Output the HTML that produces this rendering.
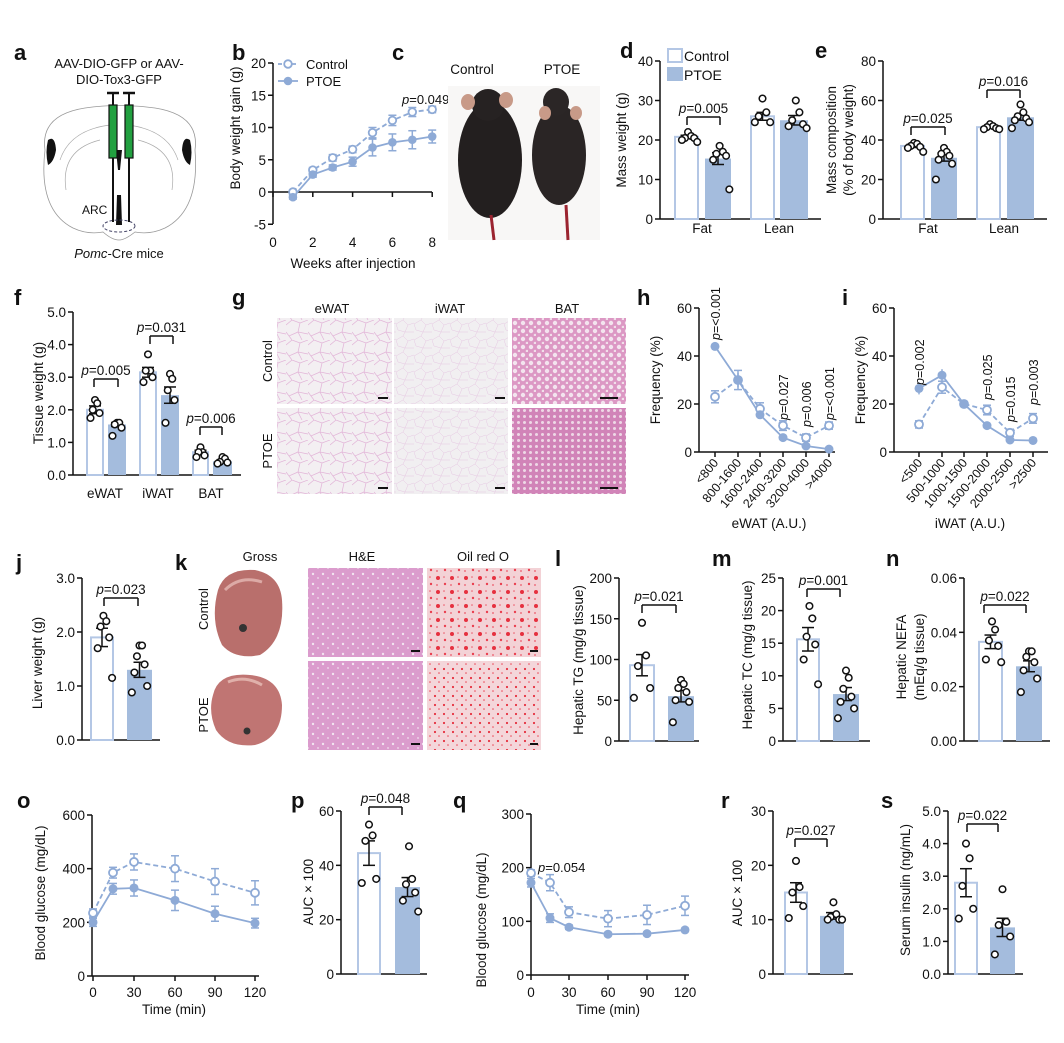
<!DOCTYPE html>
<html><head><meta charset="utf-8">
<style>
html,body{margin:0;padding:0;background:#fff;}
svg{display:block;font-family:"Liberation Sans",Arial,sans-serif;}
</style></head>
<body>
<svg id="s" width="1064" height="1043" viewBox="0 0 1064 1043" xmlns="http://www.w3.org/2000/svg">
<defs>
<pattern id="wat1" width="22" height="20" patternUnits="userSpaceOnUse">
<rect width="22" height="20" fill="#f3eff2"/>
<path d="M0 5 L6 0 M6 0 L14 3 L22 0 M14 3 L12 12 L22 14 M12 12 L3 16 L0 12 M3 16 L6 20 M12 12 L16 20" stroke="#e2b4d8" stroke-width="0.7" fill="none"/>
</pattern>
<pattern id="wat2" width="18" height="16" patternUnits="userSpaceOnUse">
<rect width="18" height="16" fill="#f1eff1"/>
<path d="M0 4 L7 0 M7 0 L12 5 L18 3 M12 5 L9 12 L18 12 M9 12 L2 10 L0 4 M9 12 L7 16" stroke="#e6c8e2" stroke-width="0.5" fill="none"/>
</pattern>
<pattern id="bat" width="8" height="8" patternUnits="userSpaceOnUse">
<rect width="8" height="8" fill="#dc98c4"/>
<circle cx="3" cy="3" r="2.2" fill="#f3e4ee"/><circle cx="7" cy="7" r="1.3" fill="#f1dfea"/>
</pattern>
<pattern id="bat2" width="6" height="6" patternUnits="userSpaceOnUse">
<rect width="6" height="6" fill="#d184b8"/>
<circle cx="2.5" cy="2.5" r="1.5" fill="#eed8e6"/>
</pattern>
<pattern id="he" width="10" height="10" patternUnits="userSpaceOnUse">
<rect width="10" height="10" fill="#db9ccd"/>
<circle cx="3" cy="4" r="1.2" fill="#f2e4f0"/><circle cx="8" cy="8" r="0.9" fill="#f0e0ee"/>
</pattern>
<pattern id="oil" width="14" height="14" patternUnits="userSpaceOnUse">
<rect width="14" height="14" fill="#f3d2d6"/>
<circle cx="4" cy="4" r="2" fill="#e6303f"/><circle cx="11" cy="10" r="1.2" fill="#ea4050"/><circle cx="10" cy="3" r="0.8" fill="#ec5868"/><circle cx="3" cy="11" r="0.9" fill="#ec5868"/>
</pattern>
<pattern id="oil2" width="9" height="9" patternUnits="userSpaceOnUse">
<rect width="9" height="9" fill="#f4d6da"/>
<circle cx="3" cy="3" r="1.1" fill="#e6303f"/><circle cx="7" cy="7" r="0.8" fill="#ea4858"/>
</pattern>
</defs>
<g id="g"></g>
</svg>
<script>
var G=document.getElementById('g');var out='';
var LC='#8eaad6',BF='#a4bcdd',BS='#b4c7e5';
function T(x,y,s,o){o=o||{};var a=o.a||'start',f=o.f||13,w=o.w||'normal',r=o.r;
var tr=r?' transform="rotate('+r+' '+x+' '+y+')"':'';
out+='<text x="'+x+'" y="'+y+'" font-size="'+f+'" font-weight="'+w+'" text-anchor="'+a+'"'+tr+' fill="'+(o.c||'#111')+'">'+s+'</text>';}
function L(x1,y1,x2,y2,c,w,d){out+='<line x1="'+x1+'" y1="'+y1+'" x2="'+x2+'" y2="'+y2+'" stroke="'+(c||'#111')+'" stroke-width="'+(w||1.5)+'"'+(d?' stroke-dasharray="'+d+'"':'')+'/>';}
function R(x,y,w,h,f,s,sw){out+='<rect x="'+x+'" y="'+y+'" width="'+w+'" height="'+h+'" fill="'+f+'"'+(s?' stroke="'+s+'" stroke-width="'+(sw||1.5)+'"':'')+'/>';}
function C(x,y,r,f,s,sw){out+='<circle cx="'+x+'" cy="'+y+'" r="'+r+'" fill="'+f+'"'+(s?' stroke="'+s+'" stroke-width="'+(sw||1.5)+'"':'')+'/>';}
function P(v){return '<tspan font-style="italic">p</tspan>='+v;}
function yaxis(ax,y0,yT,vmax,ticks,end,ylab){
  L(ax,yT,ax,y0);L(ax,y0,end,y0);
  ticks.forEach(function(t){var y=y0-(t[0]/vmax)*(y0-yT);L(ax-5,y,ax,y);T(ax-7,y+5,t[1],{a:'end',f:13.5});});
  return function(v){return y0-(v/vmax)*(y0-yT);};
}
function bar(Y,x0,x1,v,e,dots,ctrl){
  var y=Y(v),y0=Y(0);
  if(ctrl) R(x0+1,y,x1-x0-2,y0-y,'#fff',BS,2); else R(x0,y,x1-x0,y0-y,BF);
  var cx=(x0+x1)/2;
  L(cx,Y(v-e),cx,Y(v+e),'#111',1.5);L(cx-6,Y(v+e),cx+6,Y(v+e),'#111',1.5);L(cx-6,Y(v-e),cx+6,Y(v-e),'#111',1.5);
  var n=dots.length,sp=Math.min(7,(x1-x0-8)/Math.max(1,n-1));
  dots.forEach(function(d,i){var dx=(i%2?1:-1)*Math.ceil(i/2)*sp*0.9;if(n%2==0)dx+=sp*0.45;C(cx+dx,Y(d),3.3,'#fff','#111',1.5);});
}
function brk(x1,x2,y,p){L(x1,y+8,x1,y);L(x1,y,x2,y);L(x2,y,x2,y+8);T((x1+x2)/2,y-4,P(p),{a:'middle',f:13.5});}
function letter(x,y,s){T(x,y,s,{f:22,w:'bold'});}

// ---- a ----
letter(14,60,'a');
T(119,68,'AAV-DIO-GFP or AAV-',{a:'middle',f:13});
T(119,84,'DIO-Tox3-GFP',{a:'middle',f:13});
out+='<path d="M45 150 Q40 115 85 108 Q119 103 155 108 Q200 115 195 150 Q200 210 165 228 Q150 235 135 232 Q125 240 119 240 Q112 240 103 232 Q88 235 73 228 Q38 210 45 150Z" fill="none" stroke="#999" stroke-width="0.8"/>';
out+='<path d="M60 160 Q70 130 110 125 M178 160 Q168 130 128 125 M66 190 Q60 150 100 140 M172 190 Q178 150 138 140" fill="none" stroke="#aaa" stroke-width="0.7"/>';
out+='<path d="M48 140 Q55 135 56 150 Q54 162 48 165 Q45 152 48 140Z" fill="#111"/><path d="M190 140 Q183 135 182 150 Q184 162 190 165 Q193 152 190 140Z" fill="#111"/>';
out+='<path d="M116 150 L122 150 L120 170 L118 170Z M117 195 L121 195 L122 225 L116 225Z" fill="#111"/>';
out+='<ellipse cx="119" cy="226" rx="16" ry="6" fill="none" stroke="#446" stroke-dasharray="3 2" stroke-width="1"/>';
[[109,117],[125,133]].forEach(function(s){var cx=(s[0]+s[1])/2;L(cx-6,93,cx+6,93,'#111',2.5);L(cx,93,cx,105,'#111',2);R(s[0],105,8,53,'#22a040','#111',1.2);L(cx,158,cx,222,'#111',2);});
T(82,214,'ARC',{f:12});
T(119,258,'<tspan font-style="italic">Pomc</tspan>-Cre mice',{a:'middle',f:13});

// ---- b ----
letter(232,60,'b');
(function(){var ax=273,y0=192,yT=63;L(ax,63,ax,224);
[[20,'20'],[15,'15'],[10,'10'],[5,'5'],[0,'0'],[-5,'-5']].forEach(function(t){var y=192-t[0]*6.45;L(ax-5,y,ax,y);T(ax-7,y+5,t[1],{a:'end',f:13.5});});
L(ax,y0,432,y0);[0,2,4,6,8].forEach(function(w){var x=ax+w*19.9;L(x,y0,x,y0+5);T(x,247,''+w,{a:'middle',f:13.5});});
T(353,268,'Weeks after injection',{a:'middle',f:13.5});
T(240,128,'Body weight gain (g)',{a:'middle',f:13.5,r:-90});
var c=[0,3.4,5.3,6.6,9.2,11.1,12.4,12.8],ce=[.3,.4,.5,.5,.8,.8,.7,.5],p=[-.8,2.7,3.8,4.7,6.9,7.7,8.1,8.6],pe=[.3,.4,.4,.7,1.3,1.3,1.4,1];
function X(i){return ax+(i+1)*19.9;}function Y(v){return 192-v*6.45;}
var s='';c.forEach(function(v,i){s+=(i?'L':'M')+X(i)+' '+Y(v);});out+='<path d="'+s+'" fill="none" stroke="'+LC+'" stroke-width="1.8" stroke-dasharray="5 3"/>';
s='';p.forEach(function(v,i){s+=(i?'L':'M')+X(i)+' '+Y(v);});out+='<path d="'+s+'" fill="none" stroke="'+LC+'" stroke-width="1.8"/>';
c.forEach(function(v,i){L(X(i),Y(v-ce[i]),X(i),Y(v+ce[i]),LC,1.5);L(X(i)-4,Y(v+ce[i]),X(i)+4,Y(v+ce[i]),LC,1.5);L(X(i)-4,Y(v-ce[i]),X(i)+4,Y(v-ce[i]),LC,1.5);C(X(i),Y(v),3.8,'#fff',LC,1.8);});
p.forEach(function(v,i){L(X(i),Y(v-pe[i]),X(i),Y(v+pe[i]),LC,1.5);L(X(i)-4,Y(v+pe[i]),X(i)+4,Y(v+pe[i]),LC,1.5);L(X(i)-4,Y(v-pe[i]),X(i)+4,Y(v-pe[i]),LC,1.5);C(X(i),Y(v),4.3,LC);});
L(278,64,298,64,LC,1.8,'4 3');C(288,64,3.8,'#fff',LC,1.8);T(306,69,'Control');
L(278,81,298,81,LC,1.8);C(288,81,4.3,LC);T(306,86,'PTOE');
T(402,104,P('0.049'),{f:13});
})();

// ---- c ----
letter(392,60,'c');
T(472,74,'Control',{a:'middle',f:13.5});T(562,74,'PTOE',{a:'middle',f:13.5});
R(448,86,152,154,'#f8f7f6');
out+='<ellipse cx="490" cy="160" rx="32" ry="58" fill="#231f1f"/><ellipse cx="488" cy="105" rx="16" ry="16" fill="#262222"/>';
out+='<ellipse cx="468" cy="102" rx="7" ry="8" fill="#c89a88"/><ellipse cx="506" cy="100" rx="7" ry="8" fill="#c89a88"/>';
L(491,215,494,240,'#9b2430',3);
out+='<ellipse cx="559" cy="155" rx="27" ry="50" fill="#2a2525"/><ellipse cx="556" cy="102" rx="13" ry="14" fill="#2b2626"/>';
out+='<ellipse cx="545" cy="113" rx="6" ry="7" fill="#c89a88"/><ellipse cx="576" cy="113" rx="6" ry="7" fill="#c89a88"/>';
L(566,205,568,240,'#9b2430',3);

// ---- d ----
letter(620,58,'d');
(function(){var Y=yaxis(660,219,61,40,[[0,'0'],[10,'10'],[20,'20'],[30,'30'],[40,'40']],821);
T(626,140,'Mass weight (g)',{a:'middle',f:13.5,r:-90});
bar(Y,674,699,20.8,.4,[22,21,20.5,20.5,20,19.5],1);bar(Y,705,731,15.3,1.5,[18.5,17,16.5,16,15,7.5],0);
bar(Y,750,775,26,1,[30.5,27,26,24.5,24.5],1);bar(Y,780,808,25,1.2,[30,27,25,24,23.5,23],0);
T(702,233,'Fat',{a:'middle',f:13.5});T(779,233,'Lean',{a:'middle',f:13.5});
brk(687,720,117,'0.005');
R(668,49,14,13,'#fff',BS,2);R(667,67,16,14,BF);T(684,61,'Control',{f:14});T(684,80,'PTOE',{f:14});
})();

// ---- e ----
letter(815,58,'e');
(function(){var Y=yaxis(883,219,61,80,[[0,'0'],[20,'20'],[40,'40'],[60,'60'],[80,'80']],1047);
T(836,140,'Mass composition',{a:'middle',f:13.5,r:-90});T(853,140,'(% of body weight)',{a:'middle',f:13.5,r:-90});
bar(Y,900,925,37,.8,[38.5,38,37,36.5,36,34],1);bar(Y,931,957,31,1.7,[36,34,33,32,30,28,20],0);
bar(Y,976,1001,46.5,.5,[48,47,46.5,46,45.5,45.5],1);bar(Y,1007,1034,51.5,1.5,[58,54,52,51,50,49,46],0);
T(928,233,'Fat',{a:'middle',f:13.5});T(1004,233,'Lean',{a:'middle',f:13.5});
brk(911,945,127,'0.025');brk(987,1020,90,'0.016');
})();

// ---- f ----
letter(14,305,'f');
(function(){var Y=yaxis(73,475,312,5,[[0,'0.0'],[1,'1.0'],[2,'2.0'],[3,'3.0'],[4,'4.0'],[5,'5.0']],241);
T(43,393,'Tissue weight (g)',{a:'middle',f:13.5,r:-90});
bar(Y,86,104,2.0,.12,[2.3,2.2,2.0,1.9,1.75],1);bar(Y,108,126,1.55,.06,[1.6,1.6,1.55,1.45,1.2],0);
bar(Y,139,157,3.15,.15,[3.7,3.2,3.2,3.0,2.85],1);bar(Y,161,179,2.45,.25,[3.1,2.95,2.6,2.3,1.6],0);
bar(Y,192,209,.7,.06,[.85,.7,.7,.6,.55],1);bar(Y,213,232,.42,.05,[.55,.5,.4,.38,.35],0);
T(105,498,'eWAT',{a:'middle',f:13.5});T(158,498,'iWAT',{a:'middle',f:13.5});T(211,498,'BAT',{a:'middle',f:13.5});
brk(94,118,379,'0.005');brk(150,173,336,'0.031');brk(200,222,427,'0.006');
})();

// ---- g ----
letter(232,305,'g');
T(332,313,'eWAT',{a:'middle',f:13});T(450,313,'iWAT',{a:'middle',f:13});T(567,313,'BAT',{a:'middle',f:13});
T(272,361,'Control',{a:'middle',f:13,r:-90});T(272,451,'PTOE',{a:'middle',f:13,r:-90});
R(277,318,115,86,'url(#wat1)');R(394,318,114,86,'url(#wat2)');R(512,318,114,86,'url(#bat)');
R(277,408,115,86,'url(#wat1)');R(394,408,114,86,'url(#wat2)');R(512,408,114,86,'url(#bat2)');
[[378,388,5],[495,505,5],[600,618,5]].forEach(function(b){L(b[0],398,b[1],398,'#111',2);L(b[0],488,b[1],488,'#111',2);});

// ---- h, i ----
function freq(ax,end,xs,c,ce,p,pe,cats,xl,xlc,ylx,ps){
  var Y=yaxis(ax,452,308,60,[[0,'0'],[20,'20'],[40,'40'],[60,'60']],end);
  xs.forEach(function(x,i){L(x,452,x,457);T(x+4,463,cats[i],{a:'end',f:12.5,r:-50});});
  T(xlc,528,xl,{a:'middle',f:13.5});T(ylx,380,'Frequency (%)',{a:'middle',f:13.5,r:-90});
  var s='';c.forEach(function(v,i){s+=(i?'L':'M')+xs[i]+' '+Y(v);});out+='<path d="'+s+'" fill="none" stroke="'+LC+'" stroke-width="1.8" stroke-dasharray="5 3"/>';
  s='';p.forEach(function(v,i){s+=(i?'L':'M')+xs[i]+' '+Y(v);});out+='<path d="'+s+'" fill="none" stroke="'+LC+'" stroke-width="1.8"/>';
  c.forEach(function(v,i){var x=xs[i];L(x,Y(v-ce[i]),x,Y(v+ce[i]),LC,1.5);L(x-4,Y(v+ce[i]),x+4,Y(v+ce[i]),LC,1.5);L(x-4,Y(v-ce[i]),x+4,Y(v-ce[i]),LC,1.5);C(x,Y(v),4,'#fff',LC,1.8);});
  p.forEach(function(v,i){var x=xs[i];L(x,Y(v-pe[i]),x,Y(v+pe[i]),LC,1.5);C(x,Y(v),4.5,LC);});
  ps.forEach(function(q){T(xs[q[0]]+5,q[1],P(q[2]),{a:'start',f:12.5,r:-90});});
}
letter(637,305,'h');letter(842,305,'i');
freq(699,835,[715,738,760,783,806,829],[23,30,18,11,6,11],[2.5,4,2.5,2,1.5,1.5],[44,30,15.5,6,2.5,1.2],[1,3,1.5,.8,.8,.5],
 ['&lt;800','800-1600','1600-2400','2400-3200','3200-4000','&gt;4000'],'eWAT (A.U.)',769,660,[[0,340,'&lt;0.001'],[3,420,'0.027'],[4,427,'0.006'],[5,420,'&lt;0.001']]);
freq(894,1048,[919,942,964,987,1010,1033],[11.5,27,20,17.5,8,14],[1.5,2.5,1,2,1.5,2],[26.5,32,20,11,5,4.8],[2.5,2.5,1,1,.8,.5],
 ['&lt;500','500-1000','1000-1500','1500-2000','2000-2500','&gt;2500'],'iWAT (A.U.)',970,865,[[0,385,'0.002'],[3,400,'0.025'],[4,422,'0.015'],[5,405,'0.003']]);

// ---- j ----
letter(16,570,'j');
(function(){var Y=yaxis(82,740,578,3,[[0,'0.0'],[1,'1.0'],[2,'2.0'],[3,'3.0']],160);
T(42,663,'Liver weight (g)',{a:'middle',f:13.5,r:-90});
bar(Y,90,114,1.9,.17,[2.3,2.2,2.1,1.9,1.7,1.15],1);bar(Y,127,152,1.3,.14,[1.75,1.75,1.55,1.4,1.25,1.0,.88],0);
brk(104,138,598,'0.023');})();

// ---- k ----
letter(175,570,'k');
T(260,561,'Gross',{a:'middle',f:13});T(362,561,'H&amp;E',{a:'middle',f:13});T(483,561,'Oil red O',{a:'middle',f:13});
T(208,609,'Control',{a:'middle',f:13,r:-90});T(208,715,'PTOE',{a:'middle',f:13,r:-90});
out+='<path d="M218 590 Q225 568 255 570 Q280 575 282 600 Q285 640 260 655 Q235 660 222 645 Q210 620 218 590Z" fill="#b96f6c"/>';
out+='<path d="M225 590 Q240 575 262 582" stroke="#dcaaa6" stroke-width="3" fill="none"/><circle cx="243" cy="628" r="4" fill="#333"/>';
out+='<path d="M213 695 Q218 672 250 675 Q280 678 282 705 Q282 738 255 745 Q228 748 216 730 Q208 712 213 695Z" fill="#c07573"/>';
out+='<path d="M228 682 Q245 675 262 685" stroke="#e0b0aa" stroke-width="3" fill="none"/><circle cx="247" cy="731" r="3.5" fill="#333"/>';
R(308,568,115,89,'url(#he)');R(308,661,115,89,'url(#he)');R(427,568,114,89,'url(#oil)');R(427,661,114,89,'url(#oil2)');
[[411,420],[530,538]].forEach(function(b){L(b[0],651,b[1],651,'#111',2);L(b[0],744,b[1],744,'#111',2);});

// ---- l m n ----
letter(555,566,'l');
(function(){var Y=yaxis(619,741,578,200,[[0,'0'],[50,'50'],[100,'100'],[150,'150'],[200,'200']],699);
T(583,660,'Hepatic TG (mg/g tissue)',{a:'middle',f:13.5,r:-90});
bar(Y,629,655,93,13,[145,105,92,65,53],1);bar(Y,668,694,55,7,[75,70,65,60,50,48,23],0);brk(642,676,605,'0.021');})();
letter(712,566,'m');
(function(){var Y=yaxis(783,741,578,25,[[0,'0'],[5,'5'],[10,'10'],[15,'15'],[20,'20'],[25,'25']],870);
T(752,655,'Hepatic TC (mg/g tissue)',{a:'middle',f:13.5,r:-90});
bar(Y,796,820,15.6,1.8,[20.7,18.8,16,14.8,12.5,8.7],1);bar(Y,833,859,7.2,1,[10.8,9.7,8,6.8,6,5,3.5],0);brk(807,840,589,'0.001');})();
letter(886,566,'n');
(function(){var Y=yaxis(964,741,578,.06,[[0,'0.00'],[.02,'0.02'],[.04,'0.04'],[.06,'0.06']],1050);
T(906,657,'Hepatic NEFA',{a:'middle',f:13.5,r:-90});T(924,657,'(mEq/g tissue)',{a:'middle',f:13.5,r:-90});
bar(Y,978,1003,.0365,.0025,[.044,.041,.037,.035,.03,.029],1);bar(Y,1016,1042,.0275,.002,[.033,.033,.031,.029,.026,.023,.018],0);brk(984,1026,605,'0.022');})();

// ---- o, q line ----
function tol(ax,y0,yT,vmax,ticks,xs,c,ce,p,pe,ylx,lab,tc){
  L(ax,yT,ax,y0);ticks.forEach(function(t){var y=y0-t[0]/vmax*(y0-yT);L(ax-5,y,ax,y);T(ax-7,y+5,t[1],{a:'end',f:13.5});});
  L(ax,y0,xs[xs.length-1]+4,y0);
  var Y=function(v){return y0-v/vmax*(y0-yT);};
  tc.forEach(function(t){L(t[0],y0,t[0],y0+5);T(t[0],997,t[1],{a:'middle',f:13.5});});
  T((tc[0][0]+tc[tc.length-1][0])/2,1014,'Time (min)',{a:'middle',f:13.5});
  T(ylx,lab[1],lab[0],{a:'middle',f:13.5,r:-90});
  var s='';c.forEach(function(v,i){s+=(i?'L':'M')+xs[i]+' '+Y(v);});out+='<path d="'+s+'" fill="none" stroke="'+LC+'" stroke-width="1.8" stroke-dasharray="5 3"/>';
  s='';p.forEach(function(v,i){s+=(i?'L':'M')+xs[i]+' '+Y(v);});out+='<path d="'+s+'" fill="none" stroke="'+LC+'" stroke-width="1.8"/>';
  c.forEach(function(v,i){var x=xs[i];L(x,Y(v-ce[i]),x,Y(v+ce[i]),LC,1.5);L(x-4,Y(v+ce[i]),x+4,Y(v+ce[i]),LC,1.5);L(x-4,Y(v-ce[i]),x+4,Y(v-ce[i]),LC,1.5);C(x,Y(v),4,'#fff',LC,1.8);});
  p.forEach(function(v,i){var x=xs[i];L(x,Y(v-pe[i]),x,Y(v+pe[i]),LC,1.5);L(x-4,Y(v+pe[i]),x+4,Y(v+pe[i]),LC,1.5);L(x-4,Y(v-pe[i]),x+4,Y(v-pe[i]),LC,1.5);C(x,Y(v),4.5,LC);});
}
letter(17,808,'o');
tol(92,976,815,600,[[0,'0'],[200,'200'],[400,'400'],[600,'600']],[93,113,134,175,215,255],[235,385,425,400,352,310],[15,20,30,48,48,45],[200,325,328,282,232,197],[15,20,30,38,28,18],45,['Blood glucose (mg/dL)',893],[[93,'0'],[134,'30'],[175,'60'],[215,'90'],[255,'120']]);
letter(453,808,'q');
tol(531,975,814,300,[[0,'0'],[100,'100'],[200,'200'],[300,'300']],[531,550,569,608,647,685],[190,172,117,105,112,129],[6,15,10,15,18,18],[172,106,89,76,77,84],[8,8,4,3,3,3],486,['Blood glucose (mg/dL)',920],[[531,'0'],[569,'30'],[608,'60'],[647,'90'],[685,'120']]);
T(538,872,P('0.054'),{f:13});

// ---- p r s ----
letter(291,808,'p');
(function(){var Y=yaxis(341,974,811,60,[[0,'0'],[20,'20'],[40,'40'],[60,'60']],427);
T(313,892,'AUC × 100',{a:'middle',f:13.5,r:-90});
bar(Y,357,381,44.5,4.5,[55,51,49,35,33.5],1);bar(Y,395,420,32,3.5,[47,35,33,30,27,23],0);brk(369,402,807,'0.048');})();
letter(721,808,'r');
(function(){var Y=yaxis(773,974,811,30,[[0,'0'],[10,'10'],[20,'20'],[30,'30']],853);
T(742,893,'AUC × 100',{a:'middle',f:13.5,r:-90});
bar(Y,784,808,15,1.8,[20.8,16,15,12.5,10.3],1);bar(Y,820,844,10.7,.6,[13.2,11,10.5,10,10,10],0);brk(795,827,839,'0.027');})();
letter(881,808,'s');
(function(){var Y=yaxis(948,974,811,5,[[0,'0.0'],[1,'1.0'],[2,'2.0'],[3,'3.0'],[4,'4.0'],[5,'5.0']],1023);
T(910,890,'Serum insulin (ng/mL)',{a:'middle',f:13.5,r:-90});
bar(Y,954,978,2.8,.43,[4,3.55,2.7,2.0,1.7],1);bar(Y,990,1015,1.43,.28,[2.6,1.6,1.5,1.15,.6],0);brk(967,998,824,'0.022');})();

G.innerHTML=out;
</script>
</body></html>
